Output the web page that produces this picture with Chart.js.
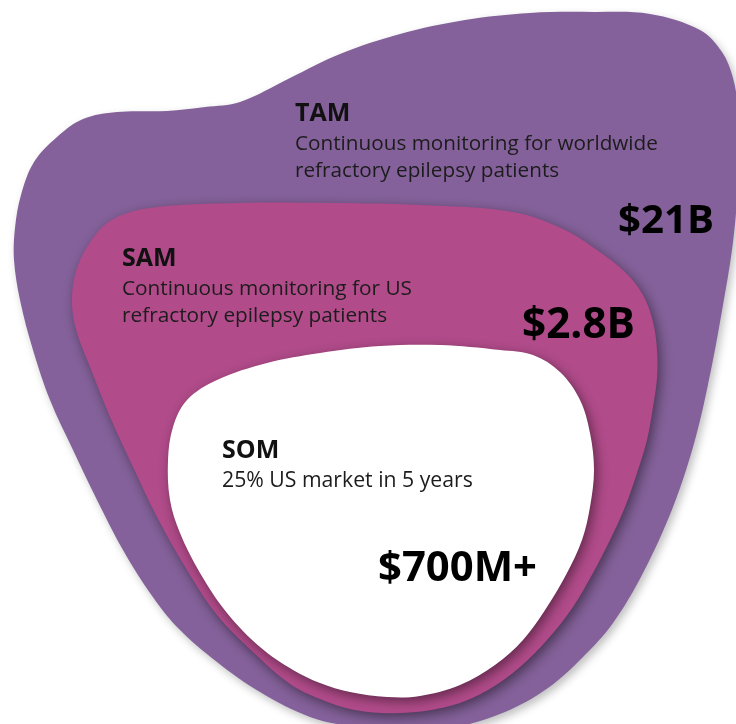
<!DOCTYPE html>
<html>
<head>
<meta charset="utf-8">
<title>TAM / SAM / SOM</title>
<script src="https://cdn.jsdelivr.net/npm/chart.js@4.4.1/dist/chart.umd.min.js"></script>
<style>
  html, body { margin: 0; padding: 0; background: #ffffff; }
  #wrap { width: 736px; height: 724px; position: relative; }
</style>
</head>
<body>
<div id="wrap"><canvas id="marketChart"></canvas></div>
<script>
// market layers, outermost first
const segments = ['TAM', 'SAM', 'SOM'];
const marketValues = ['$21B', '$2.8B', '$700M+'];
const descriptions = [
    ['Continuous monitoring for worldwide', 'refractory epilepsy patients'],
    ['Continuous monitoring for US', 'refractory epilepsy patients'],
    ['25% US market in 5 years']
];
const layerColors = ['#84619a', '#b14b8a', '#ffffff'];

// blob outlines (x, y in page units, y downwards)
const tamOutline = [
    [240, 102], [290, 78], [340, 54], [400, 34], [465, 20], [530, 13], [593, 12], [650, 14],
    [700, 30], [722, 52], [733, 78], [738, 110], [739, 150], [737, 200], [732, 250], [723, 305],
    [711, 370], [695, 440], [673, 507], [643, 573], [613, 623], [583, 657], [548, 688], [505, 712],
    [455, 727], [400, 730], [350, 726], [310, 717], [260, 692], [217, 662], [177, 627], [150, 593],
    [123, 550], [97, 500], [73, 450], [50, 400], [33, 350], [20, 300], [14, 260], [15, 228],
    [21, 195], [34, 162], [57, 137], [83, 119], [117, 112], [167, 111], [205, 107]
];
const samOutline = [
    [240, 203], [330, 203], [420, 205], [513, 212], [563, 229], [597, 250], [625, 272], [643, 295],
    [653, 322], [657, 350], [657, 378], [653, 407], [647, 440], [637, 473], [625, 507], [610, 540],
    [593, 573], [573, 607], [547, 640], [520, 667], [488, 690], [450, 706], [400, 713], [355, 710],
    [320, 699], [290, 684], [253, 652], [217, 615], [187, 570], [157, 517], [133, 467], [110, 417],
    [90, 367], [77, 333], [72, 305], [75, 275], [87, 247], [110, 221], [150, 208]
];
const somOutline = [
    [320, 353], [380, 346], [440, 345], [500, 350], [533, 355], [560, 372], [580, 400], [590, 433],
    [594, 470], [590, 507], [582, 540], [567, 573], [547, 607], [523, 640], [495, 665], [460, 685],
    [420, 696], [387, 697], [350, 692], [320, 683], [293, 670], [260, 647], [227, 613], [200, 573],
    [180, 533], [170, 500], [168, 460], [173, 427], [187, 400], [217, 380], [267, 363]
];
const outlines = [tamOutline, samOutline, somOutline];

// text anchors: [x, baseline] and target widths
const titlePos = [[295, 121], [122, 266], [222, 458]];
const descPos = [[295, 150], [122, 295], [222, 487]];
const descWidth = [363, 290, 251];
const valuePos = [[618, 233], [522, 338], [378, 581]];
const valueWidth = [96, 113, 159];
const FONT = '"Open Sans", "DejaVu Sans", sans-serif';

// pad the loop so the spline closes smoothly
function closedLoop(pts) {
    const loop = [pts[pts.length - 1]].concat(pts, [pts[0], pts[1]]);
    return loop.map(p => ({ x: p[0], y: p[1] }));
}

function fitSize(ctx, text, weight, width) {
    ctx.font = weight + ' 100px ' + FONT;
    return 100 * width / ctx.measureText(text).width;
}

const blobFill = {
    id: 'blobFill',
    beforeDatasetDraw(chart, args) {
        const ctx = chart.ctx;
        const line = args.meta.dataset;
        const ds = chart.data.datasets[args.index];
        const n = line.points.length;
        line.updateControlPoints(chart.chartArea, 'x');
        ctx.save();
        ctx.shadowColor = ds.shadowColor;
        ctx.shadowBlur = ds.shadowBlur;
        ctx.shadowOffsetX = 3;
        ctx.shadowOffsetY = 4;
        ctx.fillStyle = ds.backgroundColor;
        ctx.beginPath();
        line.path(ctx, 1, n - 2);
        ctx.closePath();
        ctx.fill();
        ctx.restore();
    }
};

const blobLabels = {
    id: 'blobLabels',
    afterDatasetsDraw(chart) {
        const ctx = chart.ctx;
        ctx.save();
        ctx.textAlign = 'left';
        ctx.textBaseline = 'alphabetic';
        segments.forEach((name, i) => {
            ctx.fillStyle = '#111111';
            ctx.font = '700 25px ' + FONT;
            ctx.fillText(name, titlePos[i][0], titlePos[i][1]);

            const ds = fitSize(ctx, descriptions[i][0], 400, descWidth[i]);
            ctx.font = '400 ' + ds.toFixed(2) + 'px ' + FONT;
            ctx.fillStyle = '#1c1c1c';
            descriptions[i].forEach((txt, j) => {
                ctx.fillText(txt, descPos[i][0], descPos[i][1] + j * 27);
            });

            const vs = fitSize(ctx, marketValues[i], 700, valueWidth[i]);
            ctx.font = '700 ' + vs.toFixed(2) + 'px ' + FONT;
            ctx.fillStyle = '#000000';
            ctx.fillText(marketValues[i], valuePos[i][0], valuePos[i][1]);
        });
        ctx.restore();
    }
};

const ctx = document.getElementById('marketChart').getContext('2d');
const marketChart = new Chart(ctx, {
    type: 'line',
    data: {
        datasets: segments.map((name, i) => ({
            label: name,
            data: closedLoop(outlines[i]),
            backgroundColor: layerColors[i],
            borderWidth: 0,
            pointRadius: 0,
            fill: false,
            tension: 0.35,
            capBezierPoints: false,
            order: segments.length - i,
            shadowColor: i === 0 ? 'rgba(0,0,0,0.25)' : 'rgba(0,0,0,0.45)',
            shadowBlur: i === 0 ? 8 : 12
        }))
    },
    options: {
        responsive: true,
        maintainAspectRatio: false,
        animation: false,
        events: [],
        layout: { padding: 0 },
        scales: {
            x: { type: 'linear', min: 0, max: 736, display: false },
            y: { type: 'linear', min: 0, max: 724, reverse: true, display: false }
        },
        plugins: {
            legend: { display: false },
            tooltip: { enabled: false }
        }
    },
    plugins: [blobFill, blobLabels]
});
</script>
</body>
</html>
